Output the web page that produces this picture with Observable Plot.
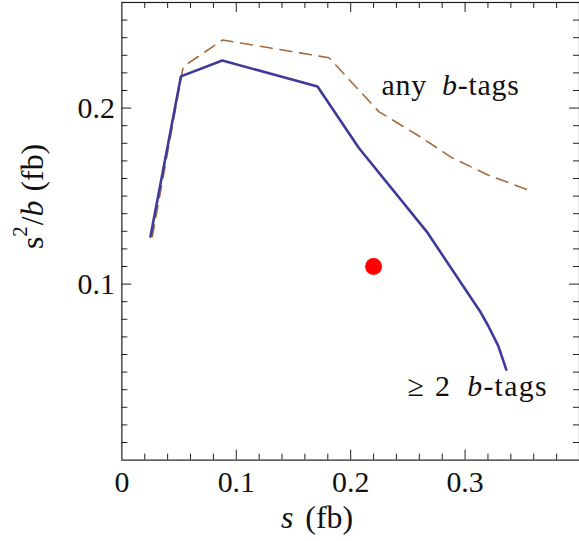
<!DOCTYPE html>
<html><head><meta charset="utf-8">
<script src="https://cdn.jsdelivr.net/npm/d3@7"></script>
<script src="https://cdn.jsdelivr.net/npm/@observablehq/plot@0.6"></script>
<style>
html,body{margin:0;padding:0;background:#fff;overflow:hidden;}
#chart{width:579px;height:541px;overflow:hidden;}
#chart svg text{font-family:"Liberation Serif", serif;}
</style></head><body><div id="chart"></div>
<script>
// ≥ 2 b-tags (solid blue)
const twoTagS   = [0.025, 0.0516, 0.0878, 0.171, 0.207, 0.2666, 0.313, 0.3203, 0.329, 0.336];
const twoTagS2b = [0.127, 0.218, 0.227, 0.2123, 0.1775, 0.1297, 0.0846, 0.0762, 0.0649, 0.0514];
// any b-tags (dashed brown)
const anyTagS   = [0.0266, 0.0536, 0.088, 0.181, 0.2246, 0.26, 0.288, 0.32, 0.355];
const anyTagS2b = [0.1269, 0.2235, 0.2387, 0.2286, 0.198, 0.184, 0.172, 0.162, 0.1535];
// single red point
const pointS   = [0.22];
const pointS2b = [0.11];
// tick labels
const xTickValues = [0, 0.1, 0.2, 0.3];
const xTickLabels = ["0", "0.1", "0.2", "0.3"];
const yTickValues = [0.1, 0.2];
const yTickLabels = ["0.1", "0.2"];
// text labels
const curveLabels = ["any b-tags", "\u2265 2 b-tags"];
const curveLabelS   = [0.227, 0.2496];
const curveLabelS2b = [0.2075, 0.0362];
const xTitle = "s (fb)";
const yTitle = "s2/b (fb)";

const twoTag = twoTagS.map((s, i) => ({s, v: twoTagS2b[i]}));
const anyTag = anyTagS.map((s, i) => ({s, v: anyTagS2b[i]}));
const pts = pointS.map((s, i) => ({s, v: pointS2b[i]}));
const labs = curveLabels.map((t, i) => ({t, s: curveLabelS[i], v: curveLabelS2b[i]}));

const W = 582, H = 541, mL = 122, mR = 0, mT = 2, mB = 79;
const fw = W - mL - mR, fh = H - mT - mB;
const ink = "#1e1e1e";
const isMajor = (v, step) => Math.abs(v / step - Math.round(v / step)) < 1e-6;
const xMajorT = [0.1, 0.2, 0.3];
const xMinorT = d3.range(1, 20).map(i => i * 0.02).filter(v => !isMajor(v, 0.1));
const yMajorT = [0.1, 0.2];
const yMinorT = d3.range(1, 26).map(i => i * 0.01).filter(v => !isMajor(v, 0.1));
const FONT = "Liberation Serif";
const txt = {fontFamily: FONT, fontSize: 30, fill: "#111"};
const ttl = {fontFamily: FONT, fontSize: 32, fill: "#111"};

const chart = Plot.plot({
  width: W, height: H,
  marginLeft: mL, marginRight: mR, marginTop: mT, marginBottom: mB,
  x: {domain: [0, 0.4]},
  y: {domain: [0, 0.26]},
  style: {fontFamily: FONT, fontSize: "30px", color: ink, background: "#fff", overflow: "visible"},
  marks: [
    Plot.ruleX(xMajorT, {insetTop: fh - 10, stroke: ink, strokeWidth: 1}),
    Plot.ruleX(xMinorT, {insetTop: fh - 6, stroke: ink, strokeWidth: 1}),
    Plot.ruleX(xMajorT, {insetBottom: fh - 10, stroke: ink, strokeWidth: 1}),
    Plot.ruleX(xMinorT, {insetBottom: fh - 6, stroke: ink, strokeWidth: 1}),
    Plot.ruleY(yMajorT, {insetRight: fw - 10, stroke: ink, strokeWidth: 1}),
    Plot.ruleY(yMinorT, {insetRight: fw - 6, stroke: ink, strokeWidth: 1}),
    Plot.ruleY(yMajorT, {insetLeft: fw - 10, stroke: ink, strokeWidth: 1}),
    Plot.ruleY(yMinorT, {insetLeft: fw - 6, stroke: ink, strokeWidth: 1}),
    Plot.frame({stroke: ink, strokeWidth: 1.2}),
    Plot.axisX(xTickValues, {tickSize: 0, tickPadding: 11, label: null, ...txt,
      tickFormat: d => xTickLabels[xTickValues.indexOf(d)]}),
    Plot.axisY(yTickValues, {tickSize: 0, tickPadding: 7, label: null, ...txt,
      tickFormat: d => yTickLabels[yTickValues.indexOf(d)]}),
    Plot.line(anyTag, {x: "s", y: "v", stroke: "#a5693a", strokeWidth: 1.6, strokeDasharray: "12,8", strokeLinejoin: "miter"}),
    Plot.line(twoTag, {x: "s", y: "v", stroke: "#3d3a98", strokeWidth: 2.6, strokeLinejoin: "miter"}),
    Plot.dot(pts, {x: "s", y: "v", r: 8.5, fill: "#ff0000", stroke: null}),
    Plot.text(labs, {x: "s", y: "v", text: "t", textAnchor: "start", lineAnchor: "bottom", ...txt}),
    Plot.text([xTitle], {frameAnchor: "bottom-left", dx: 282 - mL, dy: 530 - (H - mB), textAnchor: "start", lineAnchor: "bottom", ...ttl}),
    Plot.text([yTitle], {frameAnchor: "left", rotate: -90, dx: 43 - mL, dy: 197 - (mT + fh / 2), textAnchor: "middle", lineAnchor: "bottom", ...ttl})
  ]
});

// rich text (italic math letters, superscript)
const rich = {
  "any b-tags": [{t: "any"}, {t: "b", i: true, dx: 15}, {t: "-tags"}],
  "\u2265 2 b-tags": [{t: "\u2265"}, {t: "2", dx: 10}, {t: "b", i: true, dx: 16}, {t: "-tags"}],
  "s (fb)": [{t: "s", i: true}, {t: "(fb)", dx: 12}],
  "s2/b (fb)": [{t: "s"}, {t: "2", fs: 21, dy: -16}, {t: "/", dy: 16, dx: 1}, {t: "b", i: true}, {t: "(fb)", dx: 9}]
};
d3.select(chart).selectAll("text").each(function() {
  const key = this.textContent;
  const parts = rich[key];
  if (!parts || this.querySelector("tspan")) return;
  const sel = d3.select(this);
  sel.text(null);
  if (key !== "s (fb)" && key !== "s2/b (fb)") sel.style("letter-spacing", key === "any b-tags" ? "0.8px" : "1.3px");
  for (const p of parts) {
    const ts = sel.append("tspan").text(p.t);
    if (p.i) ts.attr("font-style", "italic");
    if (p.dx) ts.attr("dx", p.dx);
    if (p.dy) ts.attr("dy", p.dy);
    if (p.fs) ts.attr("font-size", p.fs);
  }
});

document.getElementById("chart").appendChild(chart);
</script>
</body></html>
